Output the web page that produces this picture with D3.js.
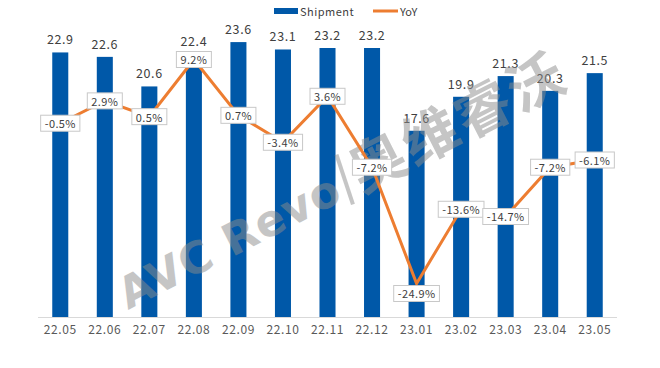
<!DOCTYPE html>
<html><head><meta charset="utf-8">
<script src="https://cdn.jsdelivr.net/npm/d3@7"></script>
<style>html,body{margin:0;padding:0;background:#fff;}svg{display:block;}</style>
</head><body>
<svg id="c" width="660" height="368"></svg>
<script>
const categories = ["22.05","22.06","22.07","22.08","22.09","22.10","22.11","22.12","23.01","23.02","23.03","23.04","23.05"];
const shipment = [22.9,22.6,20.6,22.4,23.6,23.1,23.2,23.2,17.6,19.9,21.3,20.3,21.5];
const yoy = [-0.5,2.9,0.5,9.2,0.7,-3.4,3.6,-7.2,-24.9,-13.6,-14.7,-7.2,-6.1];
const seriesNames = ["Shipment","YoY"];

const svg = d3.select("#c");
const W = 660, H = 368;
const m = {left:38, right:43, top:21.4, bottom:51};
const font = "'Noto Sans CJK SC','Microsoft YaHei',sans-serif";
const blue = "#0058A8", orange = "#ED7D31";

const x = d3.scaleBand().domain(categories).range([m.left, W - m.right]).paddingInner(0.64).paddingOuter(0.32);
const y = d3.scaleLinear().domain([5, 25]).range([H - m.bottom, m.top]);
const y2 = d3.scaleLinear().domain([-30, 15]).range([H - m.bottom, m.top]);
const cx = (i) => x(categories[i]) + x.bandwidth()/2;

// bars
svg.append("g").selectAll("rect").data(shipment).join("rect")
  .attr("x", (d,i) => x(categories[i]))
  .attr("width", x.bandwidth())
  .attr("y", d => y(d))
  .attr("height", d => y(5) - y(d))
  .attr("fill", blue);

// x axis
const xAxis = d3.axisBottom(x).tickSize(0).tickPadding(8);
const gx = svg.append("g").attr("transform", `translate(0,${H - m.bottom})`).call(xAxis);
gx.select(".domain").attr("stroke", "#d9d9d9").attr("stroke-width", 1.2)
  .attr("d", `M${m.left},0.5H${W - m.right}`);
gx.selectAll("text").attr("font-family", font).attr("font-size", 12).attr("fill", "#595959").attr("letter-spacing", 0.6);

// yoy label box geometry
const bh = 16;
const minV = d3.min(yoy);
const boxCY = yoy.map(v => v === minV ? y2(v) + bh/2 + 2 : y2(v));

// bar value labels (kept clear of the YoY label boxes)
svg.append("g").selectAll("text").data(shipment).join("text")
  .attr("x", (d,i) => cx(i))
  .attr("y", (d,i) => {
    let b = y(d) - 8;
    const top = boxCY[i] - bh/2, bot = boxCY[i] + bh/2;
    if (b > top - 2 && b - 12 < bot) b = top - 5;
    return b;
  })
  .attr("text-anchor", "middle")
  .attr("font-family", font).attr("font-size", 12.5).attr("fill", "#404040").attr("letter-spacing", 0.6)
  .text(d => d.toFixed(1));

// watermark
const wm = svg.append("g").attr("transform", "translate(352,196) rotate(-27)").attr("opacity", 0.5);
wm.append("text").attr("x", -8).attr("y", 0).attr("text-anchor", "end")
  .attr("font-family", "'DejaVu Sans',sans-serif").attr("font-weight", "bold").attr("font-size", 44)
  .attr("fill", "#8c8c8c").attr("letter-spacing", 1).text("AVC Revo");
wm.append("line").attr("x1", -3).attr("x2", 5).attr("y1", 8).attr("y2", -44).attr("stroke", "#8c8c8c").attr("stroke-width", 4);
wm.append("text").attr("x", 10).attr("y", 2).attr("text-anchor", "start")
  .attr("font-family", font).attr("font-weight", "bold").attr("font-size", 56)
  .attr("fill", "#8c8c8c").attr("letter-spacing", 3).text("奥维睿沃");

// yoy line
const line = d3.line().x((d,i) => cx(i)).y(d => y2(d));
svg.append("path").datum(yoy).attr("d", line).attr("fill", "none")
  .attr("stroke", orange).attr("stroke-width", 3).attr("stroke-linejoin", "miter");

// yoy labels
const lg = svg.append("g");
yoy.forEach((v,i) => {
  const t = (v < 0 ? "-" : "") + Math.abs(v).toFixed(1) + "%";
  const g = lg.append("g");
  const txt = g.append("text").attr("font-family", font).attr("font-size", 11).attr("fill", "#404040")
    .attr("text-anchor", "middle").attr("dominant-baseline", "central").attr("letter-spacing", 0.4).text(t);
  const bw = txt.node().getComputedTextLength() + 8;
  g.insert("rect", "text").attr("x", -bw/2).attr("y", -bh/2).attr("width", bw).attr("height", bh)
    .attr("fill", "#fff").attr("stroke", "#c8c8c8").attr("stroke-width", 1);
  g.attr("transform", `translate(${cx(i)},${boxCY[i]})`);
});

// legend
const leg = svg.append("g").attr("font-family", font).attr("font-size", 11).attr("fill", "#404040");
leg.append("rect").attr("x", 274).attr("y", 8).attr("width", 24).attr("height", 6).attr("fill", blue);
leg.append("text").attr("x", 300).attr("y", 11).attr("dominant-baseline", "central").attr("letter-spacing", 0.5).text(seriesNames[0]);
leg.append("line").attr("x1", 373).attr("x2", 398).attr("y1", 11).attr("y2", 11).attr("stroke", orange).attr("stroke-width", 3);
leg.append("text").attr("x", 400).attr("y", 11).attr("dominant-baseline", "central").text(seriesNames[1]);
</script>
</body></html>
